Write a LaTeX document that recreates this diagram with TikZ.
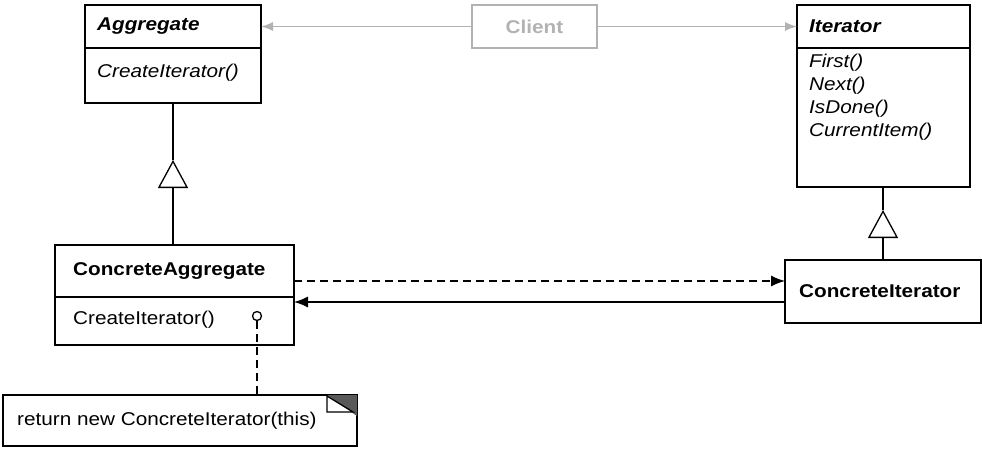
\documentclass[tikz,border=0pt]{standalone}
\usepackage{fontspec}
\setmainfont[FakeStretch=1.12]{Liberation Sans}
\usetikzlibrary{positioning,arrows.meta}
\definecolor{clientgray}{gray}{0.7}
\tikzset{
  box/.style={draw,line width=1.3pt,inner sep=0pt,outer sep=0pt,anchor=north west},
  txt/.style={inner sep=0pt,anchor=west,font=\fontsize{18.5}{23}\selectfont},
  bold/.style={txt,font=\fontsize{18.5}{23}\selectfont\bfseries},
  inherit/.style={line width=1.3pt,-{Triangle[open,length=28pt,width=30pt]}},
  assoc/.style={line width=1.3pt,-{Latex[length=14pt,width=11pt]}}
}
\begin{document}
\begin{tikzpicture}[x=1pt,y=-1pt]
\useasboundingbox (0,0) rectangle (982,448);
% Aggregate
\node[box,minimum width=176pt,minimum height=43pt] (agg) at (85,5) {};
\node[box,minimum width=176pt,minimum height=55pt,below=0pt of agg.south west,anchor=north west] (aggops) {};
\node[bold,right=12pt of agg.west] {\itshape Aggregate};
\node[txt] at (97,73) {\itshape CreateIterator()};
% Client
\node[box,draw=clientgray,text=clientgray,minimum width=125pt,minimum height=43pt,font=\fontsize{18.5}{23}\selectfont\bfseries] (client) at (472,5) {Client};
% Iterator
\node[box,minimum width=173pt,minimum height=43pt] (it) at (797,5) {};
\node[box,minimum width=173pt,minimum height=139pt,below=0pt of it.south west,anchor=north west] (itops) {};
\node[bold,right=12pt of it.west] {\itshape Iterator};
\foreach \op [count=\i] in {First(),Next(),IsDone(),CurrentItem()}
  \node[txt] at (809,40+23*\i) {\itshape \op};
% ConcreteAggregate
\node[box,minimum width=239pt,minimum height=52pt] (cagg) at (55,245) {};
\node[box,minimum width=239pt,minimum height=48pt,below=0pt of cagg.south west,anchor=north west] (caggops) {};
\node[bold,right=18pt of cagg.west] {ConcreteAggregate};
\node[txt] at (73,320) {CreateIterator()};
% ConcreteIterator
\node[box,minimum width=196pt,minimum height=63pt] (cit) at (785,260) {};
\node[bold,right=14pt of cit.west] {ConcreteIterator};
% note
\node[box,minimum width=354pt,minimum height=51pt] (note) at (3,395) {};
\node[txt,right=14pt of note.west] {return new ConcreteIterator(this)};
\fill[gray!70!black] (note.north east) ++(-30,0) -- (note.north east) -- ++(0,21) -- cycle;
\draw[line width=1.3pt,fill=white] (note.north east) ++(-30,1) -- ++(0,16) -- ++(26,0) -- cycle;

% connectors
\draw[line width=1.3pt,draw=clientgray,-{Latex[length=12pt,width=9pt]}] (client.west) -- (agg.east);
\draw[line width=1.3pt,draw=clientgray,-{Latex[length=12pt,width=9pt]}] (client.east) -- (it.west);
\coordinate (t1) at (173,160);
\coordinate (t2) at (883,210);
\draw[inherit] (cagg.north -| t1) -- (t1);
\draw[line width=1.3pt] (t1) -- (aggops.south -| t1);
\draw[inherit] (cit.north -| t2) -- (t2);
\draw[line width=1.3pt] (t2) -- (itops.south -| t2);
\draw[assoc,dash pattern=on 8pt off 5pt] (cagg.east |- 0,281) -- (cit.west |- 0,281);
\draw[assoc] (cit.west |- 0,302) -- (cagg.east |- 0,302);
\node[draw,line width=1.3pt,circle,inner sep=0pt,minimum size=9pt,fill=white] (hook) at (257,316) {};
\draw[line width=1.3pt,dash pattern=on 8pt off 5pt] (hook.south) -- (note.north -| hook);
\end{tikzpicture}
\end{document}
